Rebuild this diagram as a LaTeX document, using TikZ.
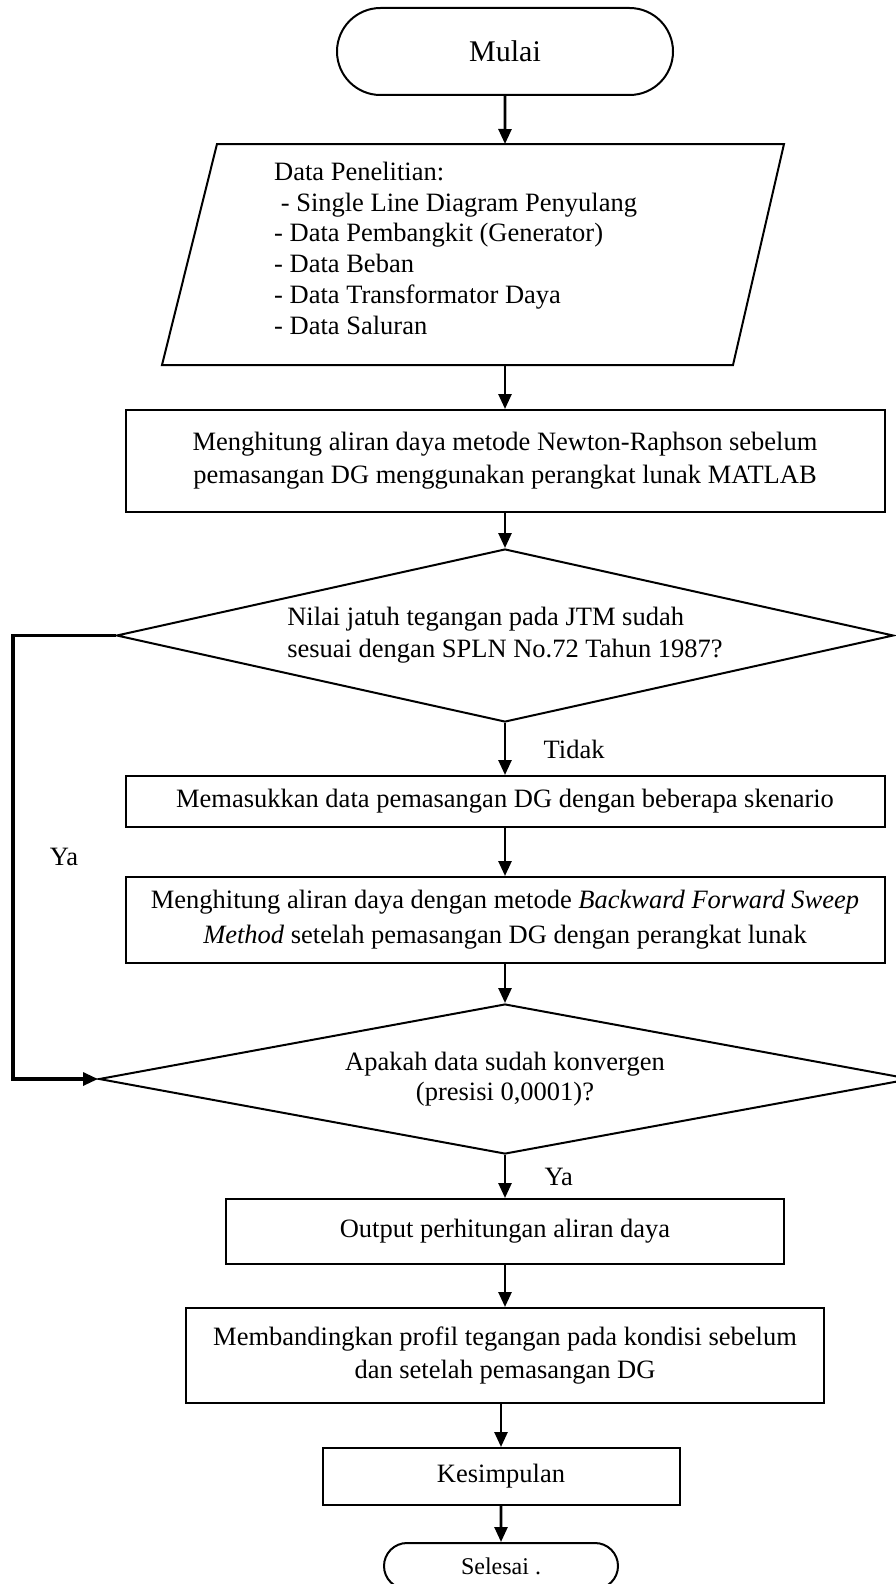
\documentclass[tikz,border=0pt]{standalone}
\usepackage{fontspec}
\setmainfont{Liberation Serif}
\usetikzlibrary{arrows.meta,positioning,shapes.misc,shapes.geometric}

\begin{document}
\begin{tikzpicture}[x=1pt,y=-1pt,>={Triangle[width=13pt,length=15pt]},
  font=\fontsize{26.5}{33}\selectfont,
  box/.style={draw,line width=2pt,inner sep=0pt,align=center},
  term/.style={draw,line width=2pt,rounded rectangle,inner sep=0pt},
  cek/.style={draw,line width=2pt,diamond,inner sep=0pt},
  panah/.style={->,line width=2.6pt}]
\useasboundingbox (0,0) rectangle (896,1584);

\node[term,minimum width=336pt,minimum height=87pt,font=\fontsize{30}{36}\selectfont] (mulai) at (505,51.5) {Mulai};

\coordinate (p1) at (217,144);
\coordinate (p2) at (784,144);
\coordinate (p3) at (733,365);
\coordinate (p4) at (162,365);
\coordinate (datatop) at (505,144);
\coordinate (databot) at (505,365);
\draw[line width=2pt] (p1) -- (p2) -- (p3) -- (p4) -- cycle;
\node[anchor=north west,inner sep=0pt,align=left,font=\fontsize{26.5}{30.7}\selectfont] (data) at (274,162)
  {Data Penelitian:\\\ - Single Line Diagram Penyulang\\- Data Pembangkit (Generator)\\- Data Beban\\- Data Transformator Daya\\- Data Saluran};

\node[box,minimum width=759pt,minimum height=102pt] (hitung1) at (505,461)
  {Menghitung aliran daya metode Newton-Raphson sebelum\\pemasangan DG menggunakan perangkat lunak MATLAB};
\node[cek,aspect=4.5,minimum width=777pt,minimum height=173pt,align=left,font=\fontsize{26.5}{32}\selectfont] (cek1) at (505,635.5)
  {Nilai jatuh tegangan pada JTM sudah\\sesuai dengan SPLN No.72 Tahun 1987?};
\node[box,minimum width=759pt,minimum height=51pt] (masuk) at (505,801.5)
  {Memasukkan data pemasangan DG dengan beberapa skenario};
\node[box,minimum width=759pt,minimum height=86pt,font=\fontsize{26.5}{35}\selectfont] (hitung2) at (505,920)
  {Menghitung aliran daya dengan metode \textit{Backward Forward Sweep}\\\textit{Method} setelah pemasangan DG dengan perangkat lunak};
\node[cek,aspect=5,minimum width=812pt,minimum height=150pt,align=center,font=\fontsize{26.5}{30}\selectfont] (cek2) at (505,1079)
  {Apakah data sudah konvergen\\(presisi 0,0001)?};
\node[box,minimum width=558pt,minimum height=65pt] (output) at (505,1231.5)
  {Output perhitungan aliran daya};
\node[box,minimum width=638pt,minimum height=95pt] (banding) at (505,1355.5)
  {Membandingkan profil tegangan pada kondisi sebelum\\dan setelah pemasangan DG};
\node[box,minimum width=357pt,minimum height=57pt] (simpul) at (501,1476.5) {Kesimpulan};
\node[term,minimum width=234pt,minimum height=46pt,font=\fontsize{24}{28}\selectfont] (selesai) at (501,1566) {Selesai .};

\coordinate (kiri) at (13,1079);
\node (ya1) at (64,857) {Ya};

\draw[panah] (mulai) -- (datatop);
\draw[panah] (databot) -- (hitung1);
\draw[panah] (hitung1) -- (cek1);
\draw[panah] (cek1) -- node[right=34pt] (tidak) {Tidak} (masuk);
\draw[panah] (masuk) -- (hitung2);
\draw[panah] (hitung2) -- (cek2);
\draw[panah] (cek2) -- node[right=35pt] (ya2) {Ya} (output);
\draw[panah] (output) -- (banding);
\draw[panah] (banding.south -| simpul) -- (simpul);
\draw[panah] (simpul) -- (selesai);
\draw[->,line width=3.2pt] (cek1.west) -| (kiri) -- (cek2.west);
\end{tikzpicture}
\end{document}
